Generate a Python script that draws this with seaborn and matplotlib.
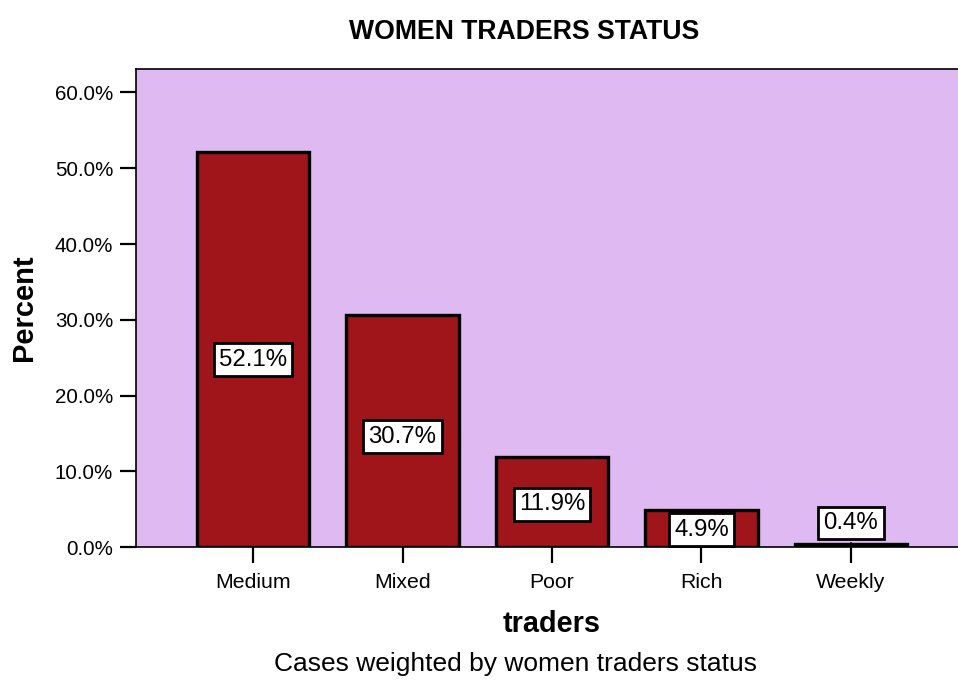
import matplotlib
matplotlib.use("Agg")
import matplotlib.pyplot as plt
import seaborn as sns
import pandas as pd
from matplotlib.ticker import FuncFormatter

categories = ["Medium", "Mixed", "Poor", "Rich", "Weekly"]
percents = [52.1, 30.7, 11.9, 4.9, 0.4]
yticks = [0, 10, 20, 30, 40, 50, 60]

title = "WOMEN TRADERS STATUS"
xlabel = "traders"
ylabel = "Percent"
caption = "Cases weighted by women traders status"

sns.set_theme(style="white")
plt.rcParams['font.family'] = ['Liberation Sans', 'DejaVu Sans']

W, H = 958, 681
fig = plt.figure(figsize=(W / 100, H / 100), dpi=100)
ax_left, ax_right, ax_top, ax_bottom = 136, 968, 69, 547.3
ax = fig.add_axes([ax_left / W, 1 - ax_bottom / H, (ax_right - ax_left) / W, (ax_bottom - ax_top) / H])
ax.set_facecolor("#DFB9F2")

df = pd.DataFrame({"cat": categories, "pct": percents})
sns.barplot(data=df, x="cat", y="pct", color="#A0151A", saturation=1, width=0.75,
            edgecolor="black", linewidth=2.4, ax=ax)

ax.set_xlim(-0.783, 4.783)
ax.set_ylim(0, 63.1)
ax.set_yticks(yticks)
ax.yaxis.set_major_formatter(FuncFormatter(lambda v, p: f"{v:.1f}%"))
ax.tick_params(axis="both", which="major", direction="out", length=11.5, width=1.6,
               color="black", labelcolor="black", left=True, bottom=True)
ax.tick_params(axis="y", labelsize=14.8, pad=5)
ax.tick_params(axis="x", labelsize=15.3, pad=7)

for side in ["left", "bottom", "top"]:
    ax.spines[side].set_visible(True)
    ax.spines[side].set_color("black")
    ax.spines[side].set_linewidth(1.2)
ax.spines["right"].set_visible(False)

ax.set_xlabel(xlabel, fontsize=20.8, fontweight="bold", color="black")
ax.set_ylabel(ylabel, fontsize=21, fontweight="bold", color="black")
ax.xaxis.label.set_verticalalignment("center")
ax.yaxis.label.set_verticalalignment("center")
ax.xaxis.set_label_coords(0.5, (ax_bottom - 624) / (ax_bottom - ax_top))
ax.yaxis.set_label_coords((24 - ax_left) / (ax_right - ax_left), 0.5)

box = dict(boxstyle="square,pad=0.22", facecolor="white", edgecolor="black", linewidth=2.0)
for i, v in enumerate(percents):
    if v < 2:
        ax.annotate(f"{v:.1f}%", xy=(i, v), xytext=(i, v + 2.8), ha="center", va="center",
                    fontsize=17.3, color="black", bbox=box,
                    arrowprops=dict(arrowstyle="-", color="black", lw=1.5))
    else:
        ax.text(i, v * 0.475, f"{v:.1f}%", ha="center", va="center", fontsize=17.3,
                color="black", bbox=box)

fig.text(524 / W, 1 - 32 / H, title, ha="center", va="center", fontsize=19.2,
         fontweight="bold", color="black")
fig.text(515 / W, 1 - 664 / H, caption, ha="center", va="center", fontsize=19,
         color="black")

fig.savefig("out.png", dpi=100)
